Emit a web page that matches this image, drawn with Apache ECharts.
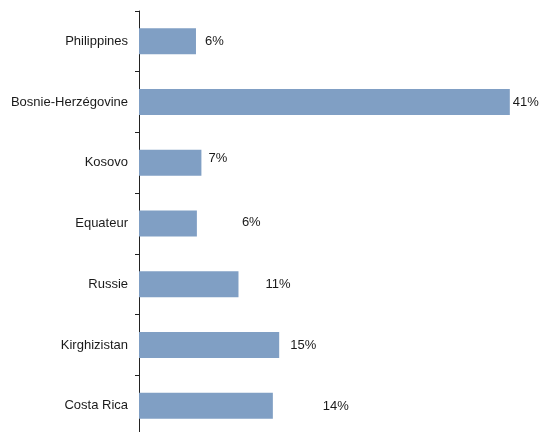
<!DOCTYPE html>
<html>
<head>
<meta charset="utf-8">
<script src="https://cdn.jsdelivr.net/npm/echarts@6/dist/echarts.min.js"></script>
<style>
  html, body { margin: 0; padding: 0; background: #fff; }
  #chart { width: 545px; height: 432px; }
</style>
</head>
<body>
<div id="chart"></div>
<script>
// pays, du haut vers le bas
const countries = ['Philippines', 'Bosnie-Herzégovine', 'Kosovo', 'Equateur', 'Russie', 'Kirghizistan', 'Costa Rica']
// longueur des barres (%)
const shares = [6.3, 41, 6.9, 6.4, 11, 15.5, 14.8]
// étiquettes affichées à côté des barres
const shareLabels = ['6%', '41%', '7%', '6%', '11%', '15%', '14%']

// décalage des étiquettes déplacées à la main dans le graphique d'origine
const labelShift = [[9, 0], [3, 0], [7, -4], [45, -1], [27, 0], [11, 0], [50, 1]]

const font = '"Liberation Sans", Arial, sans-serif'

const chart = echarts.init(document.getElementById('chart'))
chart.setOption({
  animation: false,
  grid: {
    left: 139,
    top: 11,
    width: 407,
    bottom: -4,
    outerBoundsMode: 'none',
    containLabel: false
  },
  xAxis: {
    type: 'value',
    min: 0,
    max: 45,
    show: false
  },
  yAxis: {
    type: 'category',
    inverse: true,
    data: countries,
    axisLine: { show: true, lineStyle: { color: '#222', width: 1 } },
    axisTick: { show: true, length: 4, lineStyle: { color: '#222' } },
    axisLabel: {
      margin: 11,
      color: '#1a1a1a',
      fontSize: 13,
      fontFamily: font
    }
  },
  series: [{
    type: 'bar',
    barWidth: 26,
    itemStyle: { color: '#809fc4' },
    data: shares.map((v, i) => ({
      value: v,
      label: {
        show: true,
        position: 'right',
        distance: 0,
        offset: labelShift[i],
        formatter: shareLabels[i],
        color: '#1a1a1a',
        fontSize: 13,
        fontFamily: font
      }
    }))
  }]
})
</script>
</body>
</html>
